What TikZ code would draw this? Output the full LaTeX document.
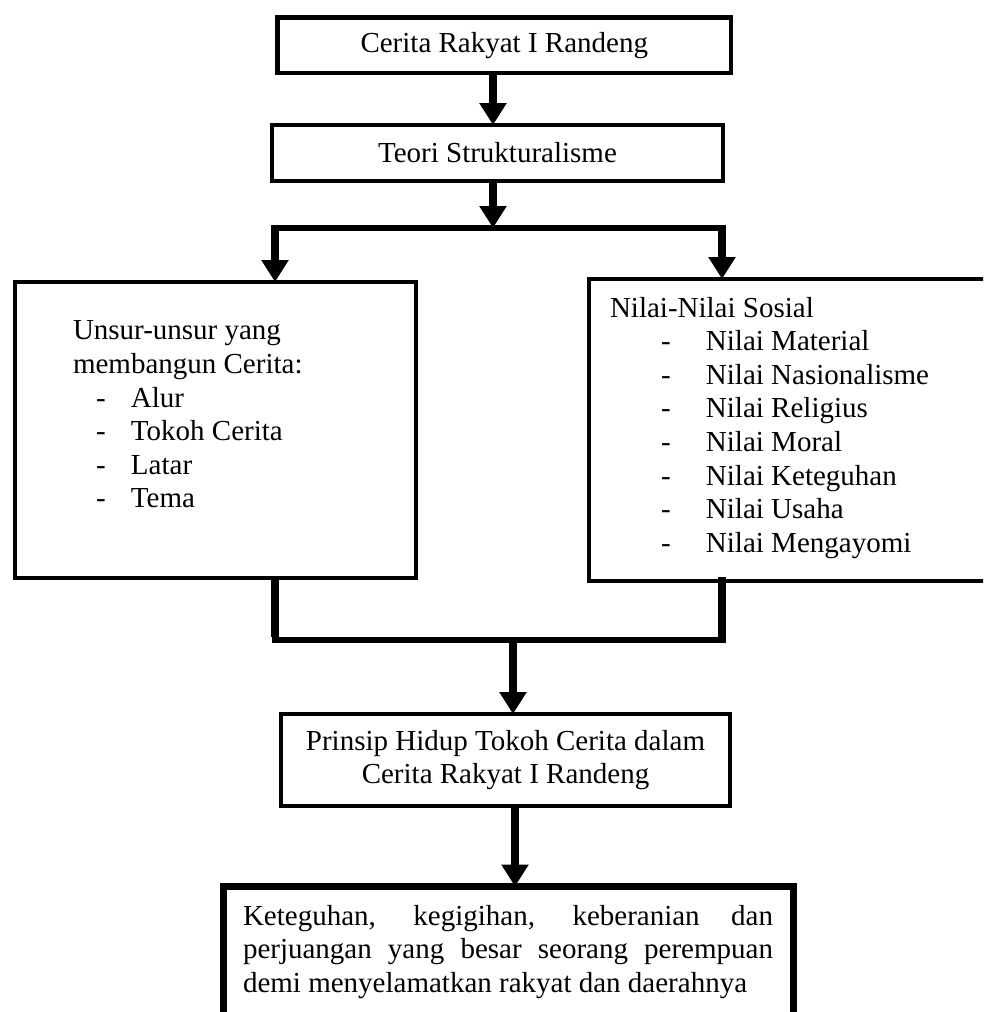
\documentclass[tikz,border=0pt]{standalone}
\usepackage{fontspec}
\setmainfont{Liberation Serif}
\usetikzlibrary{arrows.meta}
\tikzset{
  boxframe/.style={draw=black, line width=4.5pt, inner sep=0pt, outer sep=0pt, anchor=north west, align=center,
    font=\fontsize{29}{33.6}\selectfont},
  txt/.style={inner sep=0pt, outer sep=0pt, font=\fontsize{29}{33.6}\selectfont},
  conn/.style={line width=8pt, -{Triangle[width=26pt,length=22pt]}},
  hline/.style={line width=5.5pt},
  vline/.style={line width=7.5pt},
}
\newcommand{\itm}[3]{\hspace*{#1}\makebox[#2][l]{-}#3}
\begin{document}
\begin{tikzpicture}[x=1pt,y=-1pt]
\useasboundingbox (0,0) rectangle (983,1012);
\clip (0,0) rectangle (983,1012);
% boxes
\node[boxframe, minimum width=453.5pt, minimum height=55.5pt] (b1) at (277.5,17.5) {Cerita Rakyat I Randeng};
\node[boxframe, minimum width=451pt, minimum height=56pt] (b2) at (272,125) {Teori Strukturalisme};
\node[boxframe, minimum width=401pt, minimum height=296pt] (lb) at (15,282) {};
\node[boxframe, minimum width=420pt, minimum height=302pt] (rb) at (589,279) {};
\node[boxframe, minimum width=449pt, minimum height=92pt] (pb) at (281,714)
  {Prinsip Hidup Tokoh Cerita dalam\\Cerita Rakyat I Randeng};
\node[boxframe, line width=7pt, minimum width=570pt, minimum height=160pt] (fb) at (223.5,886.5) {};
% texts
\node[txt, align=left, anchor=north west] (lt) at (73,321)
  {Unsur-unsur yang\\membangun Cerita:\\
   \itm{23pt}{35pt}{Alur}\\
   \itm{23pt}{35pt}{Tokoh Cerita}\\
   \itm{23pt}{35pt}{Latar}\\
   \itm{23pt}{35pt}{Tema}};
\node[txt, align=left, anchor=north west] (rt) at (610,297)
  {Nilai-Nilai Sosial\\
   \itm{51pt}{45pt}{Nilai Material}\\
   \itm{51pt}{45pt}{Nilai Nasionalisme}\\
   \itm{51pt}{45pt}{Nilai Religius}\\
   \itm{51pt}{45pt}{Nilai Moral}\\
   \itm{51pt}{45pt}{Nilai Keteguhan}\\
   \itm{51pt}{45pt}{Nilai Usaha}\\
   \itm{51pt}{45pt}{Nilai Mengayomi}};
\node[txt, text width=530pt, align=justify, anchor=north west] (ft) at (243,905)
  {\hyphenpenalty=10000 Keteguhan, kegigihan, keberanian dan\linebreak
   perjuangan yang besar seorang perempuan\linebreak
   demi menyelamatkan rakyat dan daerahnya};
% coordinates
\coordinate (c1) at (493,0);
\coordinate (sp) at (493,228);
\coordinate (dl) at (275,228);
\coordinate (dr) at (722,228);
\coordinate (el) at (275,640);
\coordinate (er) at (722,640);
\coordinate (cm) at (513,640);
\coordinate (c4) at (515,0);
% connectors
\draw[conn] (c1 |- b1.south) -- (c1 |- b2.north);
\draw[conn] (c1 |- b2.south) -- (sp);
\draw[hline] ([xshift=-4pt]dl) -- ([xshift=4pt]dr);
\draw[conn] ([yshift=-2.5pt]dl) -- (dl |- lb.north);
\draw[conn] ([yshift=-2.5pt]dr) -- (dr |- rb.north);
\draw[vline] (el |- lb.south) -- ([yshift=3pt]el);
\draw[vline] ([yshift=4pt]er |- rb.south) -- ([yshift=3pt]er);
\draw[hline] ([xshift=-3.5pt]el) -- ([xshift=3.5pt]er);
\draw[conn] ([yshift=-2.5pt]cm) -- (cm |- pb.north);
\draw[conn] (c4 |- pb.south) -- (c4 |- fb.north);
\end{tikzpicture}
\end{document}
